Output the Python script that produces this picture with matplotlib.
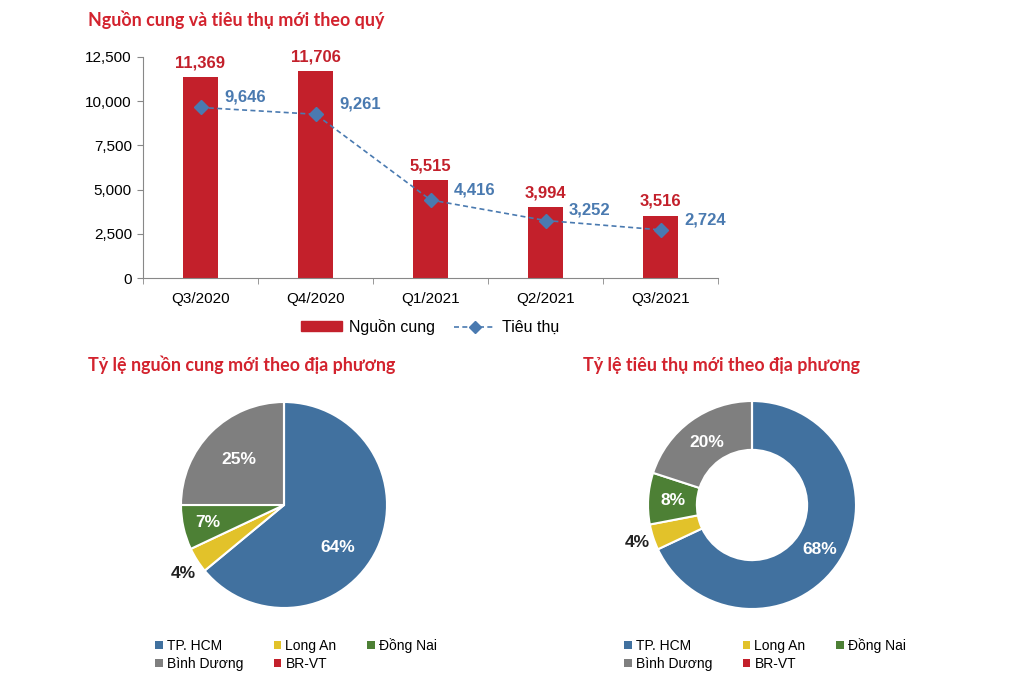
import matplotlib
matplotlib.use("Agg")
import matplotlib.pyplot as plt
import numpy as np
from matplotlib.patches import Patch
from matplotlib.lines import Line2D

quarters = ["Q3/2020", "Q4/2020", "Q1/2021", "Q2/2021", "Q3/2021"]
supply = [11369, 11706, 5515, 3994, 3516]
absorption = [9646, 9261, 4416, 3252, 2724]

regions = ["TP. HCM", "Long An", "Đồng Nai", "Bình Dương", "BR-VT"]
supply_share = [64, 4, 7, 25, 0]
absorption_share = [68, 4, 8, 20, 0]

region_colors = ["#41719f", "#e2c22a", "#4d8035", "#7f7f7f", "#c3202b"]
RED = "#c3202b"
TITLE_RED = "#d3232e"
BLUE = "#4a7ab0"

W, H = 1017, 680
fig = plt.figure(figsize=(W / 100, H / 100), dpi=100)
fig.patch.set_facecolor("white")

def ax_px(l, t, w, h):
    return fig.add_axes([l / W, 1 - (t + h) / H, w / W, h / H])

body = "Liberation Sans"

# Titles
fig.text(88 / W, 1 - 20 / H, "Nguồn cung và tiêu thụ mới theo quý", family="Lato",
         weight="bold", color=TITLE_RED, fontsize=12.9, va="center", ha="left")
fig.text(88 / W, 1 - 365 / H, "Tỷ lệ nguồn cung mới theo địa phương", family="Lato",
         weight="bold", color=TITLE_RED, fontsize=12.9, va="center", ha="left")
fig.text(583 / W, 1 - 365 / H, "Tỷ lệ tiêu thụ mới theo địa phương", family="Lato",
         weight="bold", color=TITLE_RED, fontsize=12.9, va="center", ha="left")

# Bar + line chart
ax = ax_px(143, 57, 575, 221)
x = np.arange(len(quarters))
ax.bar(x, supply, width=0.31, color=RED, zorder=2)
ax.plot(x, absorption, linestyle=(0, (3, 2)), color=BLUE, lw=1.2, marker="D",
        markersize=7, markerfacecolor=BLUE, markeredgecolor=BLUE, zorder=3)
ax.set_xlim(-0.5, len(quarters) - 0.5)
ax.set_ylim(0, 12500)
ax.set_yticks(np.arange(0, 12501, 2500))
ax.set_yticklabels([f"{v:,}" for v in range(0, 12501, 2500)], family=body, fontsize=11)
ax.set_xticks(x)
ax.set_xticklabels(quarters, family=body, fontsize=11)
ax.tick_params(axis="x", length=0, pad=10)
ax.tick_params(axis="y", length=4, color="#888888", pad=4)
for s in ["top", "right"]:
    ax.spines[s].set_visible(False)
for s in ["left", "bottom"]:
    ax.spines[s].set_color("#888888")
ax.set_xticks(np.arange(-0.5, len(quarters), 1), minor=True)
ax.tick_params(axis="x", which="minor", length=4, color="#888888")

for xi, v in zip(x, supply):
    ax.annotate(f"{v:,}", (xi, v), xytext=(0, 5), textcoords="offset points",
                ha="center", va="bottom", family=body, weight="bold",
                fontsize=12, color=RED)
for xi, v in zip(x, absorption):
    ax.annotate(f"{v:,}", (xi, v), xytext=(17, 2), textcoords="offset points",
                ha="left", va="bottom", family=body, weight="bold",
                fontsize=12, color=BLUE)

h_bar = Patch(facecolor=RED, edgecolor=RED)
h_line = Line2D([0], [0], color=BLUE, linestyle=(0, (3, 2)), lw=1.2, marker="D",
                markersize=6)
fig.legend([h_bar, h_line], ["Nguồn cung", "Tiêu thụ"], loc="center",
           bbox_to_anchor=(430 / W, 1 - 327 / H), ncol=2, frameon=False,
           prop={"family": body, "size": 11.5}, handlelength=2.6,
           handleheight=0.6, columnspacing=1.2, handletextpad=0.4)

def draw_pie(cx, cy, r, shares, label_r, label_shift, hole=None):
    a = ax_px(cx - r, cy - r, 2 * r, 2 * r)
    wp = dict(edgecolor="white", linewidth=1.5)
    if hole is not None:
        wp["width"] = 1 - hole
    wedges, _ = a.pie(shares, colors=region_colors, startangle=90, counterclock=False,
                      radius=1, wedgeprops=wp)
    a.set_xlim(-1, 1)
    a.set_ylim(-1, 1)
    a.set_aspect("equal")
    a.axis("off")
    for wdg, s, lr, sh in zip(wedges, shares, label_r, label_shift):
        if s <= 0:
            continue
        ang = np.deg2rad((wdg.theta1 + wdg.theta2) / 2 + sh)
        inside = lr < 1
        a.text(lr * np.cos(ang), lr * np.sin(ang), f"{s}%", ha="center", va="center",
               family=body, weight="bold", fontsize=12.5,
               color="white" if inside else "#222222", clip_on=False)
    return a

draw_pie(284, 505, 103, supply_share, [0.66, 1.18, 0.76, 0.62, 0],
         [-13, 2, 0, 0, 0])
draw_pie(752, 505, 104, absorption_share, [0.78, 1.16, 0.76, 0.74, 0],
         [-1, 0, 0, 0, 0], hole=0.53)

# Pie legends (row-major visual order)
order = [0, 3, 1, 4, 2]
for lx in (148, 617):
    handles = [Patch(facecolor=region_colors[i], edgecolor="none") for i in order]
    labels = [regions[i] for i in order]
    fig.legend(handles, labels, loc="upper left",
               bbox_to_anchor=(lx / W, 1 - 631 / H), ncol=3, frameon=False,
               prop={"family": body, "size": 10}, handlelength=0.55,
               handleheight=0.55, handletextpad=0.3, columnspacing=2.2,
               labelspacing=0.3, borderpad=0)

fig.savefig("out.png", dpi=100, facecolor="white")
